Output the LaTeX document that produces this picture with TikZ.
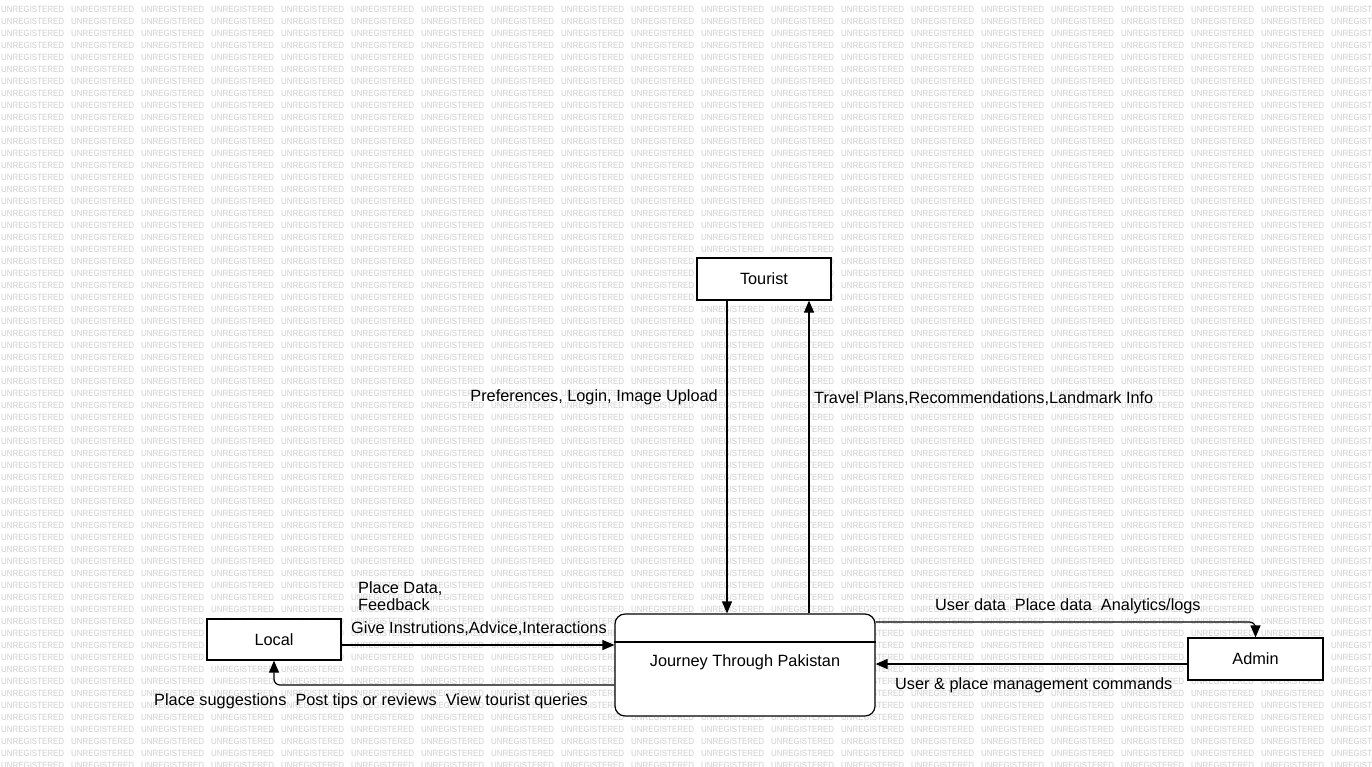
\documentclass[tikz,border=0pt]{standalone}
\usepackage{fontspec}
\setmainfont{Liberation Sans}
\usetikzlibrary{arrows.meta}
\tikzset{
  wm/.style={anchor=west,inner sep=0pt,font=\fontsize{9}{9}\selectfont,text=black!19,xscale=0.88},
  ent/.style={draw=black,fill=white,line width=1.2pt,minimum width=134pt,minimum height=42pt,inner sep=0pt,font=\fontsize{16.3}{19}\selectfont},
  proc/.style={draw=black,fill=white,line width=1.2pt,rounded corners=10pt,minimum width=260pt,minimum height=102pt,inner sep=0pt},
  lbl/.style={anchor=base west,inner sep=0pt,font=\fontsize{16.3}{17}\selectfont},
  flow/.style={draw=black,line width=1.2pt,-{Triangle[length=12pt,width=10pt]}}
}
\begin{document}
\begin{tikzpicture}[x=1pt,y=-1pt]
\useasboundingbox[fill=white] (0,0) rectangle (1372,766);
\foreach \r in {0,...,63}{
  \foreach \c in {0,...,19}{
    \node[wm] at (1+70*\c,9+12*\r) {UNREGISTERED};
  }
}
% entities
\node[ent] (tourist) at (764,279) {Tourist};
\node[ent,minimum height=41pt] (local) at (274,639.5) {Local};
\node[ent,minimum width=135pt] (admin) at (1255.5,659) {Admin};
\node[proc] (process) at (745,665) {};
\draw[line width=1.2pt] (process.west |- 0,642) -- (process.east |- 0,642);
\node[font=\fontsize{16.3}{19}\selectfont] (ptitle) at (745,662) {Journey Through Pakistan};
% flows
\draw[flow] (tourist.south -| 727,0) -- (process.north -| 727,0);
\draw[flow] (process.north -| 809,0) -- (tourist.south -| 809,0);
\draw[flow] (local.east |- 0,645) -- (process.west |- 0,645);
\draw[flow,rounded corners=6pt] (process.west |- 0,685) -| (local.south);
\draw[flow,rounded corners=6pt] (process.east |- 0,622) -| (admin.north);
\draw[flow] (admin.west |- 0,664) -- (process.east |- 0,664);
% labels
\node[lbl,anchor=base east] (l1) at (718,401) {Preferences, Login, Image Upload};
\node[lbl] (l2) at (814,403) {Travel Plans,Recommendations,Landmark Info};
\node[lbl] (l3) at (358,593) {Place Data,};
\node[lbl] (l3b) at (358,610) {Feedback};
\node[lbl] (l4) at (351,633) {Give Instrutions,Advice,Interactions};
\node[lbl] (l5) at (154,705) {Place suggestions~ Post tips or reviews~ View tourist queries};
\node[lbl] (l6) at (935,610) {User data~ Place data~ Analytics/logs};
\node[lbl] (l7) at (895,689) {User \& place management commands};
\end{tikzpicture}
\end{document}
